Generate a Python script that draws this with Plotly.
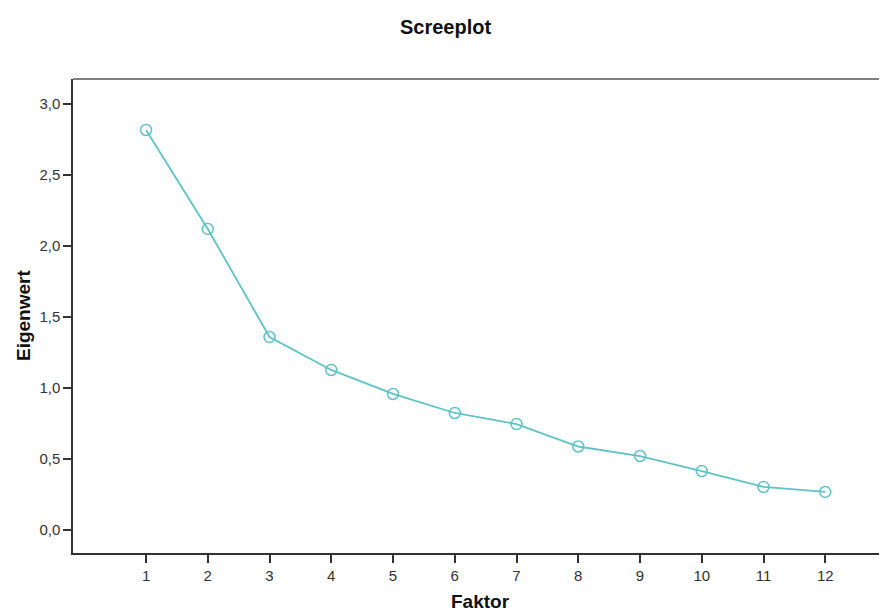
import plotly.graph_objects as go

faktor = [1, 2, 3, 4, 5, 6, 7, 8, 9, 10, 11, 12]
eigenwert = [2.817, 2.120, 1.359, 1.127, 0.958, 0.824, 0.746, 0.588, 0.521, 0.415, 0.303, 0.268]
y_ticks = [0.0, 0.5, 1.0, 1.5, 2.0, 2.5, 3.0]

FONT = "Liberation Sans, Arial, sans-serif"
LINE_COLOR = "#5fc3c6"

# page body has an 8px default margin; figure sized to fill the rest
W, H = 879, 607
L, T, B = 65, 71, 62
PW, PH = W - L, H - T - B

fig = go.Figure()
fig.add_trace(go.Scatter(
    x=faktor, y=eigenwert, mode="lines+markers",
    line=dict(color=LINE_COLOR, width=1.8),
    marker=dict(symbol="circle-open", size=11, color=LINE_COLOR, line=dict(width=1.5)),
    showlegend=False,
))

fig.update_layout(
    width=W, height=H,
    margin=dict(l=L, r=0, t=T, b=B, pad=0),
    paper_bgcolor="white", plot_bgcolor="white",
    separators=",.",
    font=dict(family=FONT, size=15, color="#333"),
    title=dict(text="<b>Screeplot</b>", x=437.5 / W, xanchor="center", y=1 - 19 / H, yanchor="middle",
               font=dict(family=FONT, size=20, color="#111")),
    xaxis=dict(range=[-0.183, 13.0], tickmode="array", tickvals=faktor,
               ticks="outside", ticklen=8, tickwidth=1.5, tickcolor="#333",
               showline=True, linecolor="#333", linewidth=1.5, showgrid=False, zeroline=False,
               tickfont=dict(size=15, color="#333")),
    yaxis=dict(range=[-0.162, 3.176], tickmode="array", tickvals=y_ticks, tickformat=".1f",
               ticks="outside", ticklen=8, tickwidth=1.5, tickcolor="#333",
               showline=True, linecolor="#333", linewidth=1.5, showgrid=False, zeroline=False,
               tickfont=dict(size=15, color="#333")),
    shapes=[dict(type="line", xref="paper", yref="paper", x0=0, x1=1, y0=1, y1=1,
                 line=dict(color="#555", width=1.5))],
    annotations=[
        dict(text="<b>Faktor</b>", xref="paper", yref="paper", x=0.5, y=-(593 - (H - B)) / PH,
             xanchor="center", yanchor="middle", showarrow=False,
             font=dict(family=FONT, size=19, color="#111")),
        dict(text="<b>Eigenwert</b>", xref="paper", yref="paper", x=-(L - 15) / PW, y=0.5,
             xanchor="center", yanchor="middle", showarrow=False, textangle=-90,
             font=dict(family=FONT, size=19, color="#111")),
    ],
)

fig.write_html("out.html")
